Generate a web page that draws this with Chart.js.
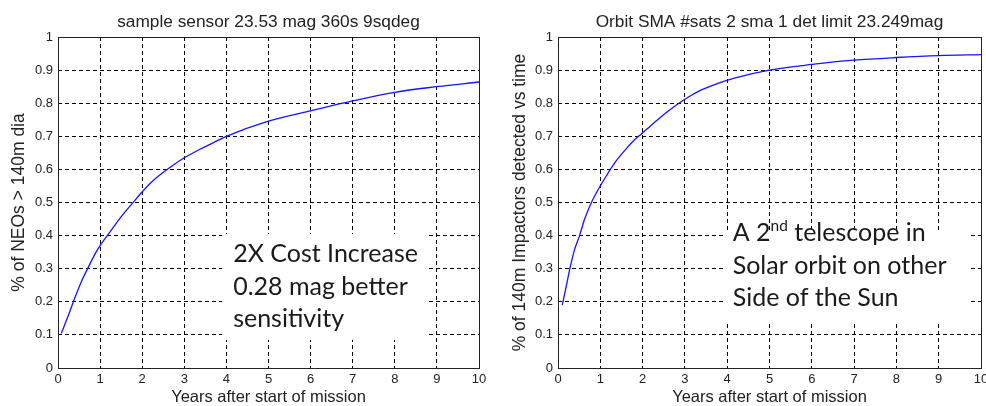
<!DOCTYPE html>
<html>
<head>
<meta charset="utf-8">
<script src="https://cdn.jsdelivr.net/npm/chart.js@4/dist/chart.umd.min.js"></script>
<style>
  html, body { margin: 0; padding: 0; background: #fff; }
  #wrap { position: relative; width: 986px; height: 406px; overflow: hidden; }
  .pane { position: absolute; top: 0; height: 406px; }
  #left { left: 0; width: 490px; }
  #right { left: 490px; width: 496px; }
</style>
</head>
<body>
<div id="wrap">
  <div class="pane" id="left"><canvas id="leftCanvas" width="490" height="406"></canvas></div>
  <div class="pane" id="right"><canvas id="rightCanvas" width="496" height="406"></canvas></div>
</div>
<script>
// values (years after start, detected fraction)
const sensorYears = [0.08, 0.25, 0.41, 0.57, 0.73, 0.89, 1.0, 1.2, 1.37, 1.53, 1.77, 1.97, 2.25, 2.65, 3.0, 3.36, 3.68, 4.0, 5, 6, 7, 8, 9, 10];
const sensorFraction = [0.105, 0.16, 0.215, 0.265, 0.307, 0.347, 0.37, 0.405, 0.435, 0.462, 0.498, 0.528, 0.565, 0.605, 0.635, 0.66, 0.68, 0.70, 0.746, 0.777, 0.807, 0.833, 0.85, 0.864];

const orbitYears = [0.1, 0.2, 0.28, 0.39, 0.51, 0.63, 0.79, 0.91, 1.0, 1.14, 1.34, 1.61, 1.8, 1.97, 2.28, 2.6, 3.0, 3.39, 3.78, 4.17, 5, 6, 7, 8, 9, 10];
const orbitFraction = [0.19, 0.25, 0.30, 0.357, 0.40, 0.45, 0.50, 0.53, 0.55, 0.58, 0.62, 0.662, 0.688, 0.707, 0.742, 0.776, 0.812, 0.84, 0.86, 0.876, 0.90, 0.917, 0.93, 0.938, 0.944, 0.947];

const xTickValues = [0, 1, 2, 3, 4, 5, 6, 7, 8, 9, 10];
const yTickValues = [0, 0.1, 0.2, 0.3, 0.4, 0.5, 0.6, 0.7, 0.8, 0.9, 1];

const leftTitle = "sample sensor 23.53 mag 360s 9sqdeg";
const rightTitle = "Orbit SMA #sats 2 sma 1 det limit 23.249mag";
const xLabel = "Years after start of mission";
const leftYLabel = "% of NEOs > 140m dia";
const rightYLabel = "% of 140m Impactors detected vs time";

const leftNote = [["2X Cost Increase"], ["0.28 mag better"], ["sensitivity"]];
const rightNote = [["A 2", "nd", " telescope in"], ["Solar orbit on other"], ["Side of the Sun"]];

const axisFont = "'Liberation Sans', Arial, sans-serif";
const noteFont = "Lato, 'Open Sans', sans-serif";

// title over the plot, the white note box and the solid frame
const notePlugin = {
  id: "note",
  beforeDatasetsDraw(chart, args, opts) {
    const { ctx, scales: { x, y } } = chart;
    const b = opts.box;
    const x0 = x.getPixelForValue(b[0]), x1 = x.getPixelForValue(b[1]);
    const y0 = y.getPixelForValue(b[2]), y1 = y.getPixelForValue(b[3]);
    ctx.save();
    ctx.fillStyle = "#fff";
    ctx.fillRect(x0, y0, x1 - x0, y1 - y0);
    ctx.fillStyle = "#1a1a1a";
    ctx.textBaseline = "alphabetic";
    const tx = x.getPixelForValue(opts.textX);
    opts.lines.forEach((parts, i) => {
      const by = y.getPixelForValue(opts.baselines[i]);
      let cx = tx;
      parts.forEach((part, j) => {
        const sup = parts.length > 1 && j === 1;
        ctx.font = (sup ? opts.size * 0.62 : opts.size) + "px " + noteFont;
        ctx.fillText(part, cx, sup ? by - opts.size * 0.38 : by);
        cx += ctx.measureText(part).width;
      });
    });
    ctx.restore();
  },
  afterDatasetsDraw(chart, args, opts) {
    const { ctx, chartArea: a } = chart;
    ctx.save();
    ctx.strokeStyle = "#222";
    ctx.lineWidth = 1;
    ctx.strokeRect(Math.round(a.left) + 0.5, Math.round(a.top) + 0.5, Math.round(a.right - a.left), Math.round(a.bottom - a.top));
    ctx.fillStyle = "#222";
    ctx.font = "17.3px " + axisFont;
    ctx.textAlign = "center";
    ctx.textBaseline = "alphabetic";
    ctx.fillText(opts.title, (a.left + a.right) / 2, 27);
    ctx.restore();
  }
};

function makeChart(canvasId, cfg) {
  const points = cfg.years.map((yr, i) => ({ x: yr, y: cfg.values[i] }));
  return new Chart(document.getElementById(canvasId), {
    type: "line",
    data: {
      datasets: [{
        data: points,
        borderColor: "#1414ff",
        borderWidth: 1.3,
        pointRadius: 0,
        tension: 0.3,
        cubicInterpolationMode: "monotone",
        fill: false
      }]
    },
    plugins: [notePlugin],
    options: {
      responsive: false,
      animation: false,
      layout: { padding: { left: 0, right: cfg.rightPad, top: 37, bottom: 0 } },
      plugins: {
        legend: { display: false },
        tooltip: { enabled: false },
        title: { display: false },
        note: Object.assign({ title: cfg.title }, cfg.note)
      },
      scales: {
        x: {
          type: "linear",
          min: 0,
          max: 10,
          afterBuildTicks: (s) => { s.ticks = xTickValues.map(v => ({ value: v })); },
          afterFit: (s) => { s.height = 38; s.paddingLeft = 0; s.paddingRight = 0; },
          grid: { color: "#000", lineWidth: 1, drawTicks: false },
          border: { display: false, dash: [4, 3] },
          ticks: { color: "#222", padding: 4, maxRotation: 0, autoSkip: false, font: { family: axisFont, size: 13 } },
          title: {
            display: true,
            text: xLabel,
            color: "#222",
            font: { family: axisFont, size: 16.5, lineHeight: 1 },
            padding: { top: 0, bottom: 0 }
          }
        },
        y: {
          min: 0,
          max: 1,
          afterBuildTicks: (s) => { s.ticks = yTickValues.map(v => ({ value: v })); },
          afterFit: (s) => { s.width = cfg.yWidth; s.paddingTop = 0; s.paddingBottom = 0; },
          grid: { color: "#000", lineWidth: 1, drawTicks: false },
          border: { display: false, dash: [4, 3] },
          ticks: {
            color: "#222",
            padding: 5,
            autoSkip: false,
            font: { family: axisFont, size: 13 },
            callback: (v) => String(Number(v.toFixed(1)))
          },
          title: {
            display: true,
            text: cfg.yLabel,
            color: "#222",
            font: { family: axisFont, size: 17.5, lineHeight: 1 },
            padding: { top: cfg.yTitlePad, bottom: 0 }
          }
        }
      }
    }
  });
}

makeChart("leftCanvas", {
  years: sensorYears,
  values: sensorFraction,
  title: leftTitle,
  yLabel: leftYLabel,
  rightPad: 11,
  yWidth: 58,
  yTitlePad: 10,
  note: { box: [3.9, 8.8, 0.405, 0.085], textX: 4.16, baselines: [0.319, 0.22, 0.125], lines: leftNote, size: 25 }
});

makeChart("rightCanvas", {
  years: orbitYears,
  values: orbitFraction,
  title: rightTitle,
  yLabel: rightYLabel,
  rightPad: 5,
  yWidth: 68,
  yTitlePad: 21,
  note: { box: [3.9, 9.75, 0.408, 0.136], textX: 4.13, baselines: [0.385, 0.284, 0.187], lines: rightNote, size: 25 }
});
</script>
</body>
</html>
